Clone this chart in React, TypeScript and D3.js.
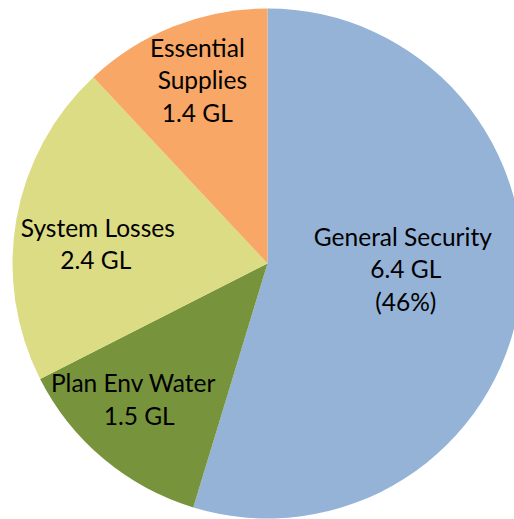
import React, { useEffect, useRef } from 'react';
import * as d3 from 'd3';

// slice data, clockwise from 12 o'clock
const categories = ['General Security', 'Plan Env Water', 'System Losses', 'Essential Supplies'];
const volumes = [6.4, 1.5, 2.4, 1.4];
const labelLines = [
  ['General Security', '6.4 GL', '(46%)'],
  ['Plan Env Water', '1.5 GL'],
  ['System Losses', '2.4 GL'],
  ['Essential', 'Supplies', '1.4 GL'],
];
const colors = ['#95B3D7', '#77933C', '#DCDC84', '#F8A766'];

// label nudges from the centroid (px), plus small per-line x shifts
const nudges = [
  [-14, -16],
  [-33, 20],
  [-20, 8],
  [-12, -40],
];
const lineShifts = [
  [-2, 1, 1],
  [-3, 3],
  [1, -1],
  [-2, 3, -2],
];

const W = 514;
const H = 519;

const App: React.FC = () => {
  const ref = useRef<SVGSVGElement | null>(null);

  useEffect(() => {
    if (!ref.current) return;
    const svg = d3.select(ref.current);
    svg.selectAll('*').remove();

    const cx = 267.5;
    const cy = 263.5;
    const radius = 255;
    const fontSize = 24.5;
    const lineH = 32.5;

    const data = categories.map((c, i) => ({ label: c, value: volumes[i], i }));

    const pie = d3.pie<{ label: string; value: number; i: number }>()
      .value(d => d.value)
      .sort(null);

    const arc = d3.arc<d3.PieArcDatum<{ label: string; value: number; i: number }>>()
      .innerRadius(0)
      .outerRadius(radius);

    const labelArc = d3.arc<d3.PieArcDatum<{ label: string; value: number; i: number }>>()
      .innerRadius(radius * 0.6)
      .outerRadius(radius * 0.6);

    const g = svg.append('g').attr('transform', `translate(${cx}, ${cy})`);

    const arcs = pie(data);

    g.selectAll('path')
      .data(arcs)
      .enter().append('path')
      .attr('fill', d => colors[d.data.i])
      .attr('d', arc);

    const labels = g.selectAll('text.lbl')
      .data(arcs)
      .enter().append('text')
      .attr('class', 'lbl')
      .attr('text-anchor', 'middle')
      .attr('font-family', 'Lato, "Liberation Sans", sans-serif')
      .attr('font-size', fontSize)
      .attr('fill', '#000')
      .attr('transform', d => {
        const [x, y] = labelArc.centroid(d);
        const [dx, dy] = nudges[d.data.i];
        return `translate(${x + dx}, ${y + dy})`;
      });

    labels.each(function (d) {
      const lines = labelLines[d.data.i];
      const shifts = lineShifts[d.data.i];
      const n = lines.length;
      d3.select(this).selectAll('tspan')
        .data(lines)
        .enter().append('tspan')
        .attr('x', (_, k) => shifts[k])
        .attr('y', (_, k) => (k - (n - 1) / 2) * lineH + 8)
        .text(t => t);
    });
  }, []);

  return (
    <svg
      ref={ref}
      width={W}
      height={H}
      style={{ position: 'absolute', left: 0, top: 0, background: '#fff' }}
    ></svg>
  );
};

export default App;
